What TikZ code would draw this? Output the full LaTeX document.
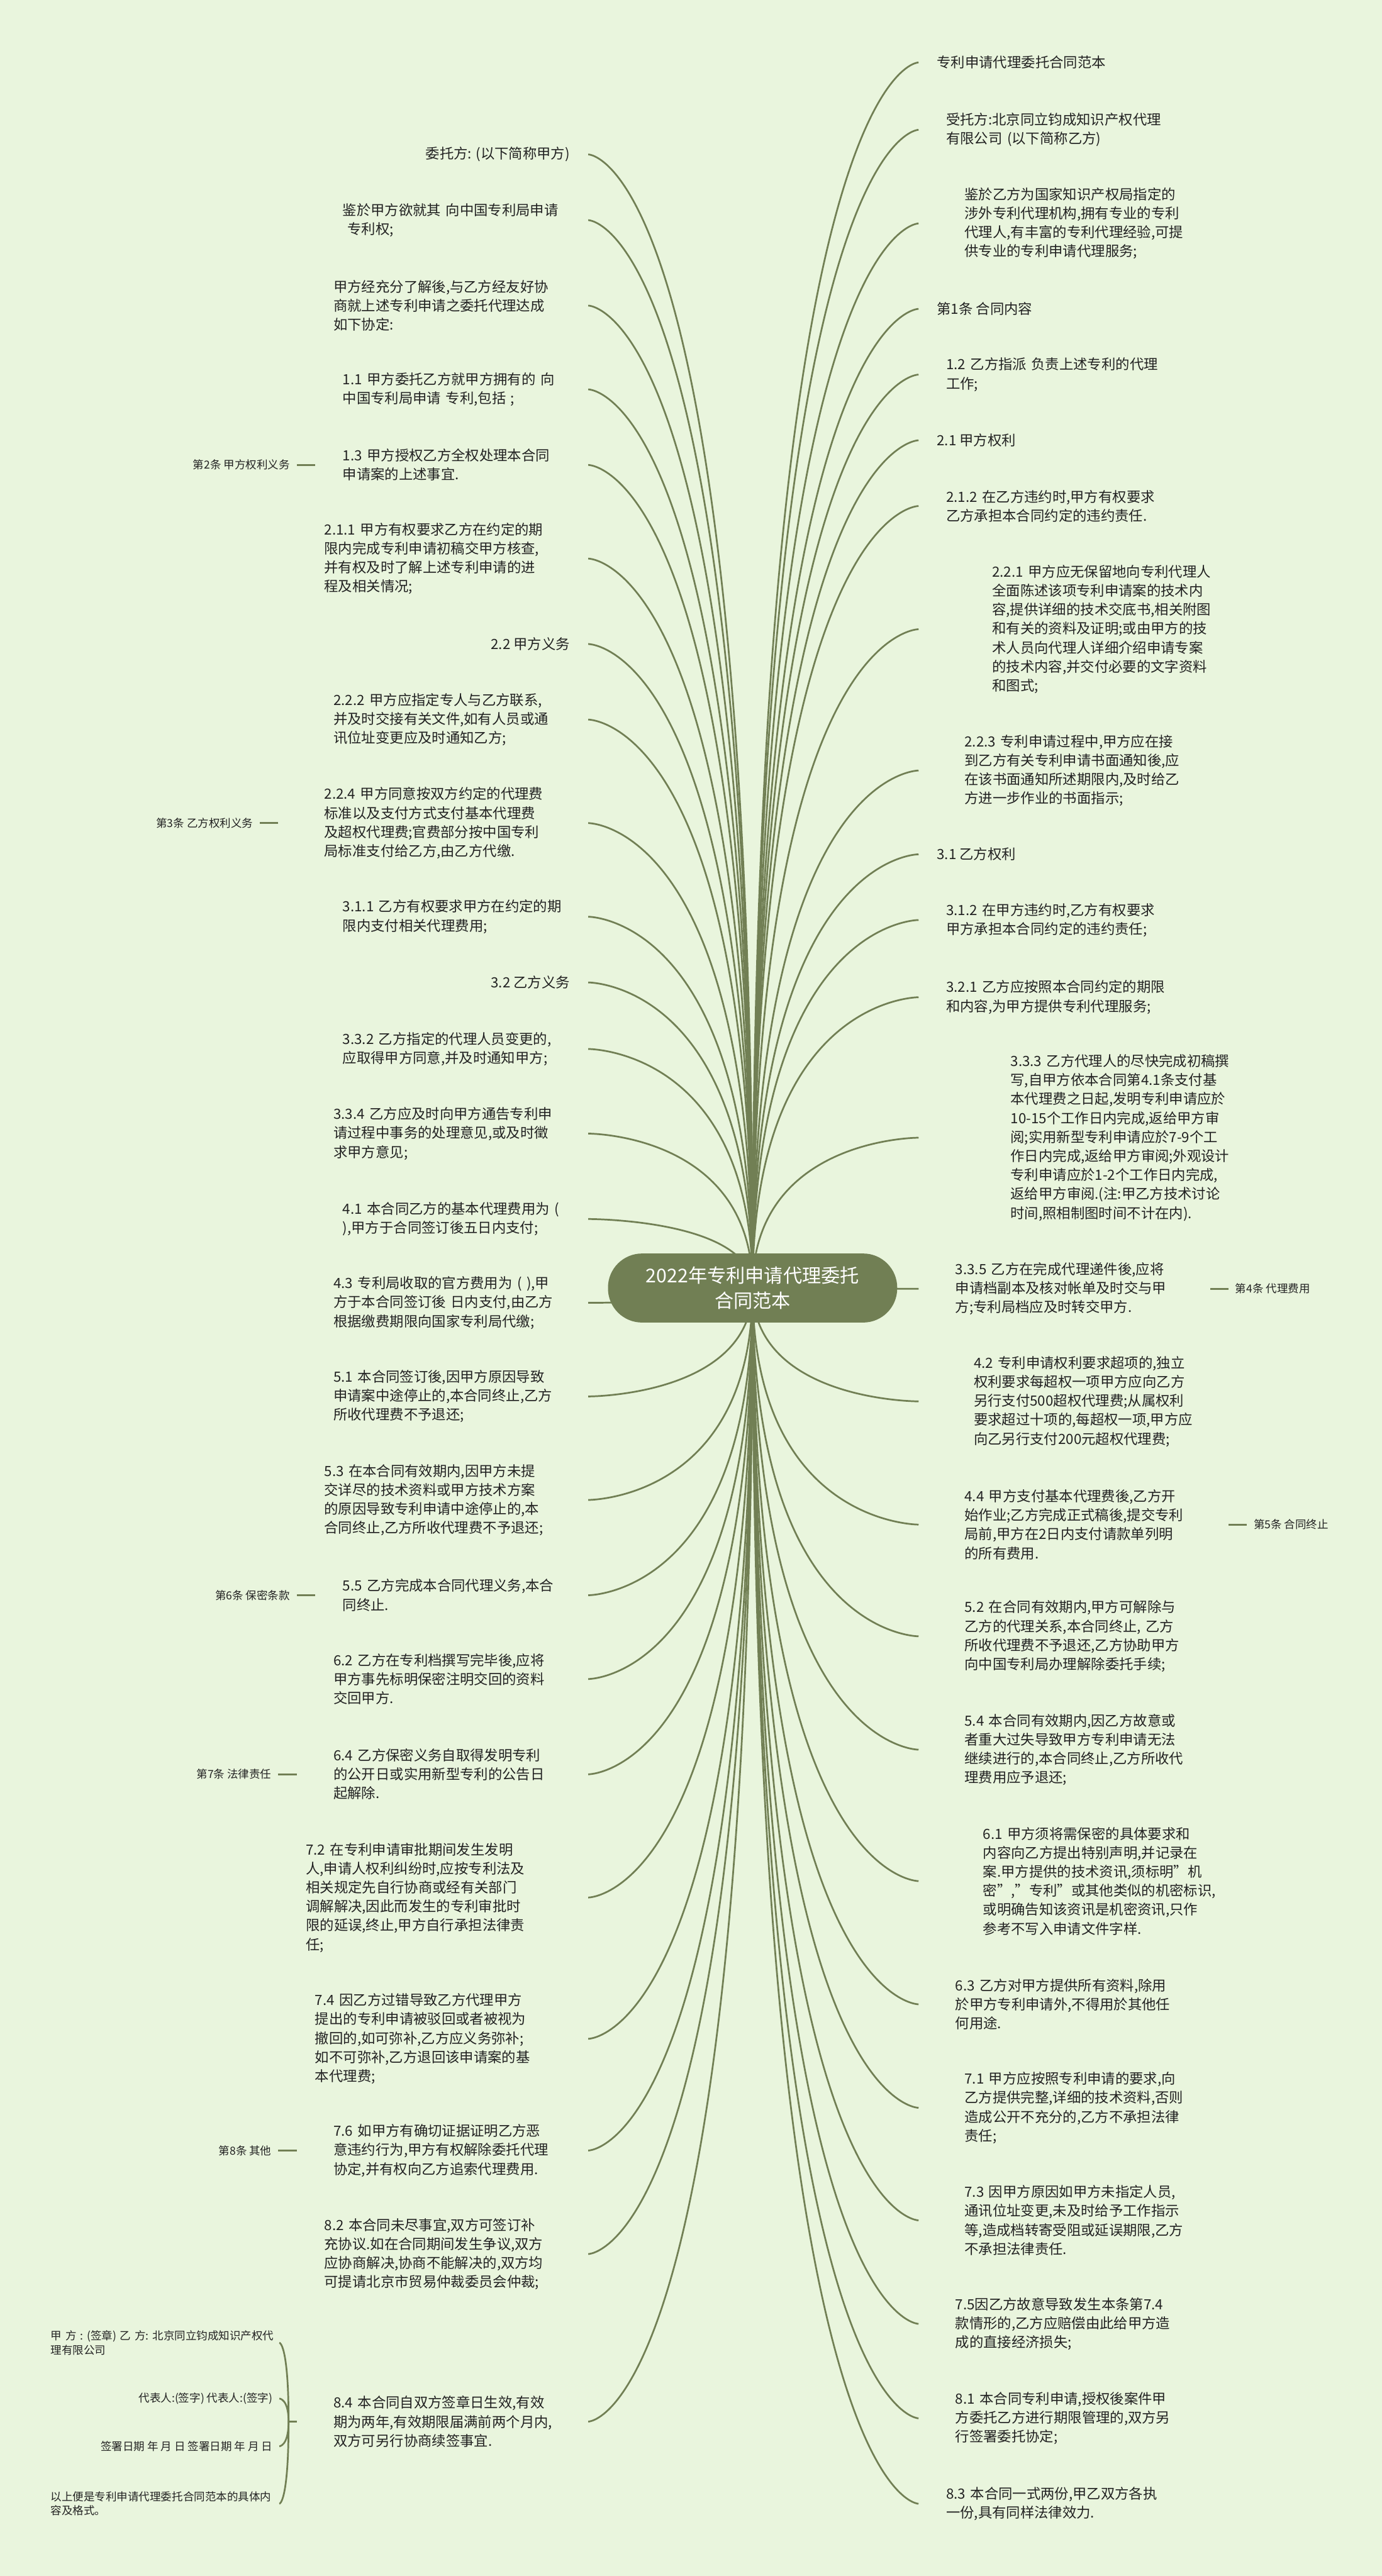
\documentclass[tikz,border=0pt]{standalone}
\usepackage{fontspec}
\setmainfont{Noto Sans CJK SC}
\usetikzlibrary{positioning}
\definecolor{paper}{RGB}{233,245,221}
\definecolor{olive}{RGB}{113,127,84}
\definecolor{ink}{RGB}{34,34,34}
\pgfdeclarelayer{paperlayer}
\pgfdeclarelayer{linklayer}
\pgfsetlayers{paperlayer,linklayer,main}
\tikzset{
  txt/.style={font=\fontsize{7.4}{10}\selectfont, text=ink, align=left, text width=4.03cm, inner ysep=1pt},
  one/.style={font=\fontsize{7.4}{10}\selectfont, text=ink, inner xsep=0.334cm, inner ysep=1pt},
  nl/.style={inner xsep={(11+5.6*(#1-1))*0.0304cm}},
  tag/.style={font=\fontsize{5.8}{7.4}\selectfont, text=ink, inner xsep=0.12cm, inner ysep=1pt},
  sig/.style={tag, align=left, text width=4.1cm},
  root/.style={fill=olive, text=white, rounded corners=0.63cm, minimum width=5.35cm, minimum height=1.277cm, align=center, font=\fontsize{10}{13}\selectfont},
  link/.style={draw=olive, line width=0.9pt}
}
\begin{document}
\begin{tikzpicture}[x=0.0304cm, y=-0.0304cm]
    \useasboundingbox (0,0) rectangle (841,1568);
    \begin{pgfonlayer}{paperlayer}
        \fill[paper] (0,0) rectangle (841,1568); % 浅绿底色
    \end{pgfonlayer}

    % 中心主题
    \node[root] (root) at (458,784) {2022年专利申请代理委托\\合同范本};

    % 左侧分支
    \node[one, anchor=east] (L1) at (358,94) {委托方: (以下简称甲方)};
    \node[txt, nl=2, anchor=east] (L2) at (358,134) {鉴於甲方欲就其~向中国专利局申请\\~专利权;};
    \node[txt, nl=3, anchor=east] (L3) at (358,186) {甲方经充分了解後,与乙方经友好协\\商就上述专利申请之委托代理达成\\如下协定:};
    \node[txt, nl=2, anchor=east] (L4) at (358,237) {1.1~甲方委托乙方就甲方拥有的~向\\中国专利局申请~专利,包括~;};
    \node[txt, nl=2, anchor=east] (L5) at (358,283) {1.3~甲方授权乙方全权处理本合同\\申请案的上述事宜.};
    \node[txt, nl=4, anchor=east] (L6) at (358,340) {2.1.1~甲方有权要求乙方在约定的期\\限内完成专利申请初稿交甲方核查,\\并有权及时了解上述专利申请的进\\程及相关情况;};
    \node[one, anchor=east] (L7) at (358,392) {2.2 甲方义务};
    \node[txt, nl=3, anchor=east] (L8) at (358,438) {2.2.2~甲方应指定专人与乙方联系,\\并及时交接有关文件,如有人员或通\\讯位址变更应及时通知乙方;};
    \node[txt, nl=4, anchor=east] (L9) at (358,501) {2.2.4~甲方同意按双方约定的代理费\\标准以及支付方式支付基本代理费\\及超权代理费;官费部分按中国专利\\局标准支付给乙方,由乙方代缴.};
    \node[txt, nl=2, anchor=east] (L10) at (358,558) {3.1.1~乙方有权要求甲方在约定的期\\限内支付相关代理费用;};
    \node[one, anchor=east] (L11) at (358,598) {3.2 乙方义务};
    \node[txt, nl=2, anchor=east] (L12) at (358,638.5) {3.3.2~乙方指定的代理人员变更的,\\应取得甲方同意,并及时通知甲方;};
    \node[txt, nl=3, anchor=east] (L13) at (358,690) {3.3.4~乙方应及时向甲方通告专利申\\请过程中事务的处理意见,或及时徵\\求甲方意见;};
    \node[txt, nl=2, anchor=east] (L14) at (358,742) {4.1~本合同乙方的基本代理费用为~(\\),甲方于合同签订後五日内支付;};
    \node[txt, nl=3, anchor=east] (L15) at (358,793) {4.3~专利局收取的官方费用为~(~),甲\\方于本合同签订後~日内支付,由乙方\\根据缴费期限向国家专利局代缴;};
    \node[txt, nl=3, anchor=east] (L16) at (358,850) {5.1~本合同签订後,因甲方原因导致\\申请案中途停止的,本合同终止,乙方\\所收代理费不予退还;};
    \node[txt, nl=4, anchor=east] (L17) at (358,913) {5.3~在本合同有效期内,因甲方未提\\交详尽的技术资料或甲方技术方案\\的原因导致专利申请中途停止的,本\\合同终止,乙方所收代理费不予退还;};
    \node[txt, nl=2, anchor=east] (L18) at (358,971) {5.5~乙方完成本合同代理义务,本合\\同终止.};
    \node[txt, nl=3, anchor=east] (L19) at (358,1022) {6.2~乙方在专利档撰写完毕後,应将\\甲方事先标明保密注明交回的资料\\交回甲方.};
    \node[txt, nl=3, anchor=east] (L20) at (358,1080) {6.4~乙方保密义务自取得发明专利\\的公开日或实用新型专利的公告日\\起解除.};
    \node[txt, nl=6, anchor=east] (L21) at (358,1155) {7.2~在专利申请审批期间发生发明\\人,申请人权利纠纷时,应按专利法及\\相关规定先自行协商或经有关部门\\调解解决,因此而发生的专利审批时\\限的延误,终止,甲方自行承担法律责\\任;};
    \node[txt, nl=5, anchor=east] (L22) at (358,1241) {7.4~因乙方过错导致乙方代理甲方\\提出的专利申请被驳回或者被视为\\撤回的,如可弥补,乙方应义务弥补;\\如不可弥补,乙方退回该申请案的基\\本代理费;};
    \node[txt, nl=3, anchor=east] (L23) at (358,1309) {7.6~如甲方有确切证据证明乙方恶\\意违约行为,甲方有权解除委托代理\\协定,并有权向乙方追索代理费用.};
    \node[txt, nl=4, anchor=east] (L24) at (358,1372) {8.2~本合同未尽事宜,双方可签订补\\充协议.如在合同期间发生争议,双方\\应协商解决,协商不能解决的,双方均\\可提请北京市贸易仲裁委员会仲裁;};
    \node[txt, nl=3, anchor=east] (L25) at (358,1474) {8.4~本合同自双方签章日生效,有效\\期为两年,有效期限届满前两个月内,\\双方可另行协商续签事宜.};

    % 左侧小标签
    \node[tag, left=0.34cm of L5] (t2) {第2条 甲方权利义务};
    \node[tag, left=0.34cm of L9] (t3) {第3条 乙方权利义务};
    \node[tag, left=0.34cm of L18] (t6) {第6条 保密条款};
    \node[tag, left=0.34cm of L20] (t7) {第7条 法律责任};
    \node[tag, left=0.34cm of L23] (t8) {第8条 其他};

    % 8.4 的签署信息
    \coordinate (br) at ([xshift=-0.15cm]L25.west);
    \node[sig, anchor=east] (B1) at (170,1426) {甲~方~:~(签章)~乙~方:~北京同立钧成知识产权代\\理有限公司};
    \node[tag, anchor=east] (B2) at (170,1460) {代表人:(签字) 代表人:(签字)};
    \node[tag, anchor=east] (B3) at (170,1489) {签署日期 年 月 日 签署日期 年 月 日};
    \node[sig, anchor=east] (B4) at (170,1524) {以上便是专利申请代理委托合同范本的具体内\\容及格式。};

    % 右侧分支
    \node[one, anchor=west] (R1) at (559,38) {专利申请代理委托合同范本};
    \node[txt, nl=2, anchor=west] (R2) at (559,79) {受托方:北京同立钧成知识产权代理\\有限公司~(以下简称乙方)};
    \node[txt, nl=4, anchor=west] (R3) at (559,136) {鉴於乙方为国家知识产权局指定的\\涉外专利代理机构,拥有专业的专利\\代理人,有丰富的专利代理经验,可提\\供专业的专利申请代理服务;};
    \node[one, anchor=west] (R4) at (559,188) {第1条 合同内容};
    \node[txt, nl=2, anchor=west] (R5) at (559,228) {1.2~乙方指派~负责上述专利的代理\\工作;};
    \node[one, anchor=west] (R6) at (559,268) {2.1 甲方权利};
    \node[txt, nl=2, anchor=west] (R7) at (559,308) {2.1.2~在乙方违约时,甲方有权要求\\乙方承担本合同约定的违约责任.};
    \node[txt, nl=7, anchor=west] (R8) at (559,383) {2.2.1~甲方应无保留地向专利代理人\\全面陈述该项专利申请案的技术内\\容,提供详细的技术交底书,相关附图\\和有关的资料及证明;或由甲方的技\\术人员向代理人详细介绍申请专案\\的技术内容,并交付必要的文字资料\\和图式;};
    \node[txt, nl=4, anchor=west] (R9) at (559,469) {2.2.3~专利申请过程中,甲方应在接\\到乙方有关专利申请书面通知後,应\\在该书面通知所述期限内,及时给乙\\方进一步作业的书面指示;};
    \node[one, anchor=west] (R10) at (559,520) {3.1 乙方权利};
    \node[txt, nl=2, anchor=west] (R11) at (559,560) {3.1.2~在甲方违约时,乙方有权要求\\甲方承担本合同约定的违约责任;};
    \node[txt, nl=2, anchor=west] (R12) at (559,607) {3.2.1~乙方应按照本合同约定的期限\\和内容,为甲方提供专利代理服务;};
    \node[txt, nl=9, anchor=west] (R13) at (559,692.5) {3.3.3~乙方代理人的尽快完成初稿撰\\写,自甲方依本合同第4.1条支付基\\本代理费之日起,发明专利申请应於\\10-15个工作日内完成,返给甲方审\\阅;实用新型专利申请应於7-9个工\\作日内完成,返给甲方审阅;外观设计\\专利申请应於1-2个工作日内完成,\\返给甲方审阅.(注:甲乙方技术讨论\\时间,照相制图时间不计在内).};
    \node[txt, nl=3, anchor=west] (R14) at (559,784.5) {3.3.5~乙方在完成代理递件後,应将\\申请档副本及核对帐单及时交与甲\\方;专利局档应及时转交甲方.};
    \node[txt, nl=5, anchor=west] (R15) at (559,853) {4.2~专利申请权利要求超项的,独立\\权利要求每超权一项甲方应向乙方\\另行支付500超权代理费;从属权利\\要求超过十项的,每超权一项,甲方应\\向乙另行支付200元超权代理费;};
    \node[txt, nl=4, anchor=west] (R16) at (559,928) {4.4~甲方支付基本代理费後,乙方开\\始作业;乙方完成正式稿後,提交专利\\局前,甲方在2日内支付请款单列明\\的所有费用.};
    \node[txt, nl=4, anchor=west] (R17) at (559,996) {5.2~在合同有效期内,甲方可解除与\\乙方的代理关系,本合同终止,~乙方\\所收代理费不予退还,乙方协助甲方\\向中国专利局办理解除委托手续;};
    \node[txt, nl=4, anchor=west] (R18) at (559,1065) {5.4~本合同有效期内,因乙方故意或\\者重大过失导致甲方专利申请无法\\继续进行的,本合同终止,乙方所收代\\理费用应予退还;};
    \node[txt, nl=6, anchor=west] (R19) at (559,1145) {6.1~甲方须将需保密的具体要求和\\内容向乙方提出特别声明,并记录在\\案.甲方提供的技术资讯,须标明"机\\密","专利"或其他类似的机密标识,\\或明确告知该资讯是机密资讯,只作\\参考不写入申请文件字样.};
    \node[txt, nl=3, anchor=west] (R20) at (559,1220) {6.3~乙方对甲方提供所有资料,除用\\於甲方专利申请外,不得用於其他任\\何用途.};
    \node[txt, nl=4, anchor=west] (R21) at (559,1283) {7.1~甲方应按照专利申请的要求,向\\乙方提供完整,详细的技术资料,否则\\造成公开不充分的,乙方不承担法律\\责任;};
    \node[txt, nl=4, anchor=west] (R22) at (559,1351.5) {7.3~因甲方原因如甲方未指定人员,\\通讯位址变更,未及时给予工作指示\\等,造成档转寄受阻或延误期限,乙方\\不承担法律责任.};
    \node[txt, nl=3, anchor=west] (R23) at (559,1414.5) {7.5因乙方故意导致发生本条第7.4\\款情形的,乙方应赔偿由此给甲方造\\成的直接经济损失;};
    \node[txt, nl=3, anchor=west] (R24) at (559,1472) {8.1~本合同专利申请,授权後案件甲\\方委托乙方进行期限管理的,双方另\\行签署委托协定;};
    \node[txt, nl=2, anchor=west] (R25) at (559,1524) {8.3~本合同一式两份,甲乙双方各执\\一份,具有同样法律效力.};

    % 右侧小标签
    \node[tag, right=0.34cm of R14] (t4) {第4条 代理费用};
    \node[tag, right=0.34cm of R16] (t5) {第5条 合同终止};

    % 连线 (放在节点下面一层)
    \begin{pgfonlayer}{linklayer}
        % 中心到左侧
        \draw[link] (root.center) .. controls (root.center |- L1.east) and (L1.east) .. (L1.east);
        \draw[link] (root.center) .. controls (root.center |- L2.east) and (L2.east) .. (L2.east);
        \draw[link] (root.center) .. controls (root.center |- L3.east) and (L3.east) .. (L3.east);
        \draw[link] (root.center) .. controls (root.center |- L4.east) and (L4.east) .. (L4.east);
        \draw[link] (root.center) .. controls (root.center |- L5.east) and (L5.east) .. (L5.east);
        \draw[link] (root.center) .. controls (root.center |- L6.east) and (L6.east) .. (L6.east);
        \draw[link] (root.center) .. controls (root.center |- L7.east) and (L7.east) .. (L7.east);
        \draw[link] (root.center) .. controls (root.center |- L8.east) and (L8.east) .. (L8.east);
        \draw[link] (root.center) .. controls (root.center |- L9.east) and (L9.east) .. (L9.east);
        \draw[link] (root.center) .. controls (root.center |- L10.east) and (L10.east) .. (L10.east);
        \draw[link] (root.center) .. controls (root.center |- L11.east) and (L11.east) .. (L11.east);
        \draw[link] (root.center) .. controls (root.center |- L12.east) and (L12.east) .. (L12.east);
        \draw[link] (root.center) .. controls (root.center |- L13.east) and (L13.east) .. (L13.east);
        \draw[link] (root.center) .. controls (root.center |- L14.east) and (L14.east) .. (L14.east);
        \draw[link] (root.center) .. controls (root.center |- L15.east) and (L15.east) .. (L15.east);
        \draw[link] (root.center) .. controls (root.center |- L16.east) and (L16.east) .. (L16.east);
        \draw[link] (root.center) .. controls (root.center |- L17.east) and (L17.east) .. (L17.east);
        \draw[link] (root.center) .. controls (root.center |- L18.east) and (L18.east) .. (L18.east);
        \draw[link] (root.center) .. controls (root.center |- L19.east) and (L19.east) .. (L19.east);
        \draw[link] (root.center) .. controls (root.center |- L20.east) and (L20.east) .. (L20.east);
        \draw[link] (root.center) .. controls (root.center |- L21.east) and (L21.east) .. (L21.east);
        \draw[link] (root.center) .. controls (root.center |- L22.east) and (L22.east) .. (L22.east);
        \draw[link] (root.center) .. controls (root.center |- L23.east) and (L23.east) .. (L23.east);
        \draw[link] (root.center) .. controls (root.center |- L24.east) and (L24.east) .. (L24.east);
        \draw[link] (root.center) .. controls (root.center |- L25.east) and (L25.east) .. (L25.east);
        % 中心到右侧
        \draw[link] (root.center) .. controls (root.center |- R1.west) and (R1.west) .. (R1.west);
        \draw[link] (root.center) .. controls (root.center |- R2.west) and (R2.west) .. (R2.west);
        \draw[link] (root.center) .. controls (root.center |- R3.west) and (R3.west) .. (R3.west);
        \draw[link] (root.center) .. controls (root.center |- R4.west) and (R4.west) .. (R4.west);
        \draw[link] (root.center) .. controls (root.center |- R5.west) and (R5.west) .. (R5.west);
        \draw[link] (root.center) .. controls (root.center |- R6.west) and (R6.west) .. (R6.west);
        \draw[link] (root.center) .. controls (root.center |- R7.west) and (R7.west) .. (R7.west);
        \draw[link] (root.center) .. controls (root.center |- R8.west) and (R8.west) .. (R8.west);
        \draw[link] (root.center) .. controls (root.center |- R9.west) and (R9.west) .. (R9.west);
        \draw[link] (root.center) .. controls (root.center |- R10.west) and (R10.west) .. (R10.west);
        \draw[link] (root.center) .. controls (root.center |- R11.west) and (R11.west) .. (R11.west);
        \draw[link] (root.center) .. controls (root.center |- R12.west) and (R12.west) .. (R12.west);
        \draw[link] (root.center) .. controls (root.center |- R13.west) and (R13.west) .. (R13.west);
        \draw[link] (root.center) .. controls (root.center |- R14.west) and (R14.west) .. (R14.west);
        \draw[link] (root.center) .. controls (root.center |- R15.west) and (R15.west) .. (R15.west);
        \draw[link] (root.center) .. controls (root.center |- R16.west) and (R16.west) .. (R16.west);
        \draw[link] (root.center) .. controls (root.center |- R17.west) and (R17.west) .. (R17.west);
        \draw[link] (root.center) .. controls (root.center |- R18.west) and (R18.west) .. (R18.west);
        \draw[link] (root.center) .. controls (root.center |- R19.west) and (R19.west) .. (R19.west);
        \draw[link] (root.center) .. controls (root.center |- R20.west) and (R20.west) .. (R20.west);
        \draw[link] (root.center) .. controls (root.center |- R21.west) and (R21.west) .. (R21.west);
        \draw[link] (root.center) .. controls (root.center |- R22.west) and (R22.west) .. (R22.west);
        \draw[link] (root.center) .. controls (root.center |- R23.west) and (R23.west) .. (R23.west);
        \draw[link] (root.center) .. controls (root.center |- R24.west) and (R24.west) .. (R24.west);
        \draw[link] (root.center) .. controls (root.center |- R25.west) and (R25.west) .. (R25.west);
    \end{pgfonlayer}

    % 小标签的短线
    \draw[link] (L5.west) -- (t2.east);
    \draw[link] (L9.west) -- (t3.east);
    \draw[link] (L18.west) -- (t6.east);
    \draw[link] (L20.west) -- (t7.east);
    \draw[link] (L23.west) -- (t8.east);
    \draw[link] (R14.east) -- (t4.west);
    \draw[link] (R16.east) -- (t5.west);

    % 8.4 的括号连线
    \draw[link] (L25.west) -- (br);
    \draw[link] (br) .. controls (br |- B1.east) and (B1.east) .. (B1.east);
    \draw[link] (br) .. controls (br |- B2.east) and (B2.east) .. (B2.east);
    \draw[link] (br) .. controls (br |- B3.east) and (B3.east) .. (B3.east);
    \draw[link] (br) .. controls (br |- B4.east) and (B4.east) .. (B4.east);
\end{tikzpicture}
\end{document}
